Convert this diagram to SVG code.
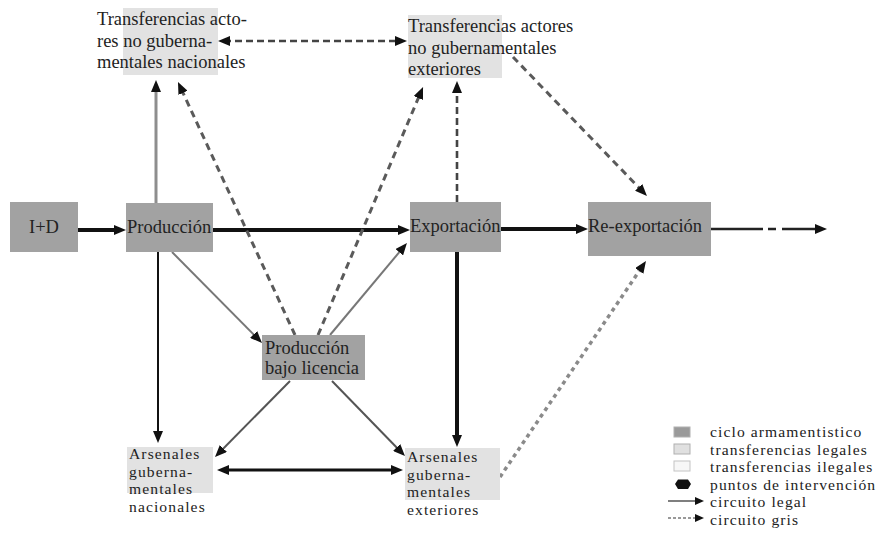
<svg xmlns="http://www.w3.org/2000/svg" width="890" height="535" viewBox="0 0 890 535">
<style>
text{font-family:"Liberation Serif","Times New Roman",serif;font-size:18.5px;fill:#222}
.sm{font-size:15.6px;letter-spacing:1.1px}
.dk{fill:#a2a2a2}
.lt{fill:#e2e2e2}
.c{fill:none}
.thick{stroke:#111;stroke-width:4}
.blk{stroke:#111;stroke-width:2}
.gry{stroke:#777;stroke-width:2}
.gline{stroke:#8e8e8e;stroke-width:3}
.dash{stroke:#444;stroke-width:2.6;stroke-dasharray:7 4}
.gdash{stroke:#5a5a5a;stroke-width:3;stroke-dasharray:7 5}
.dot{stroke:#8a8a8a;stroke-width:3.5;stroke-dasharray:4 4}
</style>
<defs>
<marker id="ah" markerUnits="userSpaceOnUse" markerWidth="12" markerHeight="10" refX="6" refY="5" orient="auto-start-reverse">
<path d="M0,0 L12,5 L0,10 Z" fill="#111"/>
</marker>
<marker id="ahs" markerUnits="userSpaceOnUse" markerWidth="9" markerHeight="8" refX="4" refY="4" orient="auto">
<path d="M0,0 L9,4 L0,8 Z" fill="#111"/>
</marker>
</defs>
<rect width="890" height="535" fill="#fff"/>

<g id="connectors">
<path class="c thick" d="M78,230 L120,230" marker-end="url(#ah)"/>
<path class="c thick" d="M213,230 L404,230" marker-end="url(#ah)"/>
<path class="c thick" d="M501,229 L582,229" marker-end="url(#ah)"/>
<path class="c" stroke="#222" stroke-width="2.5" d="M711,229 H763 M768,229 H776 M782,229 H821" marker-end="url(#ah)"/>
<path class="c gline" d="M156,203 L156,86" marker-end="url(#ah)"/>
<path class="c dash" d="M224,41 L401,41" marker-start="url(#ah)" marker-end="url(#ah)"/>
<path class="c gdash" d="M295,335 L180.5,87.4" marker-end="url(#ah)"/>
<path class="c gdash" d="M318,335 L420.7,92.5" marker-end="url(#ah)"/>
<path class="c dash" d="M457,202 L457,87" marker-end="url(#ah)"/>
<path class="c gdash" d="M513,57 L642.8,191.7" marker-end="url(#ah)"/>
<path class="c gry" d="M330,335 L403.1,247.6" marker-end="url(#ah)"/>
<path class="c gry" d="M172,252 L257.8,338.7" marker-end="url(#ah)"/>
<path class="c blk" d="M158,252 L158,437" marker-end="url(#ah)"/>
<path class="c thick" d="M457,252 L457,441" marker-end="url(#ah)"/>
<path class="c" stroke="#555" stroke-width="2" d="M290,381 L219.2,452.7" marker-end="url(#ah)"/>
<path class="c" stroke="#555" stroke-width="2" d="M332,381 L400.8,451.7" marker-end="url(#ah)"/>
<path class="c" stroke="#111" stroke-width="3" d="M223,470 L397,470" marker-start="url(#ah)" marker-end="url(#ah)"/>
<path class="c dot" d="M500,477 L642.6,266" marker-end="url(#ah)"/>
</g>

<g id="n-tnac">
<rect class="lt" x="123" y="8" width="95" height="67"/>
<text x="97" y="25">Transferencias acto-</text>
<text x="97" y="47">res no guberna-</text>
<text x="97" y="68">mentales nacionales</text>
</g>
<g id="n-text">
<rect class="lt" x="408" y="15" width="94" height="63"/>
<text x="408" y="32">Transferencias actores</text>
<text x="408" y="54">no gubernamentales</text>
<text x="408" y="75">exteriores</text>
</g>
<g id="n-id">
<rect class="dk" x="10" y="202" width="68" height="50"/>
<text x="44" y="233" text-anchor="middle">I+D</text>
</g>
<g id="n-prod">
<rect class="dk" x="126" y="203" width="87" height="49"/>
<text x="127" y="233">Producción</text>
</g>
<g id="n-exp">
<rect class="dk" x="410" y="202" width="91" height="50"/>
<text x="410" y="232">Exportación</text>
</g>
<g id="n-reexp">
<rect class="dk" x="588" y="202" width="123" height="54"/>
<text x="588" y="232">Re-exportación</text>
</g>
<g id="n-lic">
<rect class="dk" x="262" y="335" width="103" height="45"/>
<text x="265" y="354">Producción</text>
<text x="265" y="374">bajo licencia</text>
</g>
<g id="n-anac">
<rect class="lt" x="127" y="447" width="86" height="46"/>
<text class="sm" x="129" y="459">Arsenales</text>
<text class="sm" x="129" y="476.5">guberna-</text>
<text class="sm" x="129" y="494">mentales</text>
<text class="sm" x="129" y="511.5">nacionales</text>
</g>
<g id="n-aext">
<rect class="lt" x="405" y="448" width="95" height="52"/>
<text class="sm" x="407" y="462">Arsenales</text>
<text class="sm" x="407" y="479.5">guberna-</text>
<text class="sm" x="407" y="497">mentales</text>
<text class="sm" x="407" y="514.5">exteriores</text>
</g>

<g id="legend">
<rect x="674" y="427" width="16" height="10" fill="#9a9a9a" stroke="#b0b0b0"/>
<rect x="674" y="444" width="16" height="10" fill="#e0e0e0" stroke="#b0b0b0"/>
<rect x="674" y="461" width="16" height="10" fill="#f7f7f7" stroke="#c4c4c4"/>
<path d="M675,484 L678,479.5 L688,479.5 L691,484 L688,489 L678,489 Z" fill="#111"/>
<path class="c" stroke="#555" stroke-width="1.5" d="M668,501 L699,501" marker-end="url(#ahs)"/>
<path class="c" stroke="#999" stroke-width="2" stroke-dasharray="3 2" d="M668,518 L699,518" marker-end="url(#ahs)"/>
<text class="sm" x="710" y="437">ciclo armamentistico</text>
<text class="sm" x="710" y="454.5">transferencias legales</text>
<text class="sm" x="710" y="472">transferencias ilegales</text>
<text class="sm" x="710" y="489.5">puntos de intervención</text>
<text class="sm" x="710" y="507">circuito legal</text>
<text class="sm" x="710" y="524.5">circuito gris</text>
</g>
</svg>
